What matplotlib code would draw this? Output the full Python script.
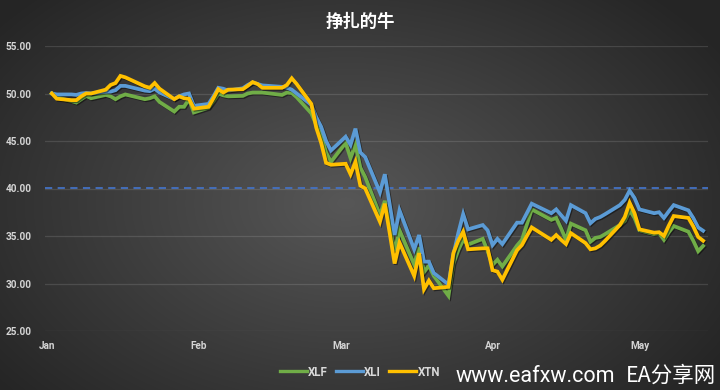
import numpy as np
import pandas as pd
import matplotlib
matplotlib.use("Agg")
import matplotlib.pyplot as plt
import matplotlib.patheffects as pe

# ---------------- data ----------------
dates = [
    "2020-01-02","2020-01-03","2020-01-06","2020-01-07","2020-01-08","2020-01-09","2020-01-10",
    "2020-01-13","2020-01-14","2020-01-15","2020-01-16","2020-01-17","2020-01-21","2020-01-22",
    "2020-01-23","2020-01-24","2020-01-27","2020-01-28","2020-01-29","2020-01-30","2020-01-31",
    "2020-02-03","2020-02-04","2020-02-05","2020-02-06","2020-02-07","2020-02-10","2020-02-11",
    "2020-02-12","2020-02-13","2020-02-14","2020-02-18","2020-02-19","2020-02-20","2020-02-21",
    "2020-02-24","2020-02-25","2020-02-26","2020-02-27","2020-02-28",
    "2020-03-02","2020-03-03","2020-03-04","2020-03-05","2020-03-06","2020-03-09","2020-03-10",
    "2020-03-11","2020-03-12","2020-03-13","2020-03-16","2020-03-17","2020-03-18","2020-03-19",
    "2020-03-20","2020-03-23","2020-03-24","2020-03-25","2020-03-26","2020-03-27","2020-03-30",
    "2020-03-31",
    "2020-04-01","2020-04-02","2020-04-03","2020-04-06","2020-04-07","2020-04-08","2020-04-09",
    "2020-04-13","2020-04-14","2020-04-15","2020-04-16","2020-04-17","2020-04-20","2020-04-21",
    "2020-04-22","2020-04-23","2020-04-24","2020-04-27","2020-04-28","2020-04-29","2020-04-30",
    "2020-05-01","2020-05-04","2020-05-05","2020-05-06","2020-05-07","2020-05-08","2020-05-11",
    "2020-05-12","2020-05-13","2020-05-14",
]

xlf = [
    50.0,49.6,49.2,49.05,49.4,49.75,49.5,49.85,49.7,49.4,49.7,49.9,49.4,49.5,49.7,49.1,48.1,48.6,48.6,49.4,48.0,
    48.5,49.2,50.0,49.8,49.7,49.75,50.0,50.1,50.1,50.1,49.85,50.1,50.05,49.6,47.9,46.7,45.6,43.8,42.8,
    44.8,43.2,44.6,42.2,41.2,37.2,38.7,36.0,33.4,35.6,32.0,33.8,31.2,31.9,30.8,28.7,32.1,33.5,34.6,34.1,34.7,33.4,
    31.95,32.5,31.8,34.0,34.6,36.2,37.8,36.7,36.9,35.8,34.6,36.3,35.6,34.4,34.8,34.9,35.2,36.15,36.6,37.7,36.9,
    35.6,35.2,35.3,34.6,35.4,36.05,35.45,34.5,33.4,33.95,
]
xli = [
    50.0,49.9,49.9,49.85,50.0,50.05,50.0,50.2,50.2,50.35,50.8,50.8,50.3,50.25,50.5,50.1,49.4,49.7,49.9,50.0,48.7,
    48.9,49.7,50.6,50.5,50.3,50.55,50.9,51.15,51.0,50.85,50.7,50.6,50.4,50.0,48.8,47.5,46.5,45.0,44.0,
    45.45,44.6,46.3,43.8,43.3,39.6,41.5,38.3,35.1,37.7,33.6,35.1,32.3,32.3,31.1,29.9,33.0,35.3,37.3,35.7,36.15,35.6,
    34.05,34.7,34.15,36.4,36.4,37.4,38.4,37.4,37.8,37.2,36.6,38.25,37.4,36.35,36.8,37.0,37.3,38.25,38.8,39.77,39.0,
    37.8,37.4,37.5,36.9,37.6,38.25,37.7,36.9,35.9,35.55,
]
xtn = [
    50.0,49.45,49.3,49.3,49.7,50.0,50.0,50.4,50.9,51.1,51.85,51.7,50.75,50.6,51.1,50.5,49.4,49.7,49.5,49.45,48.4,
    48.6,49.5,50.45,50.1,50.4,50.45,50.8,51.2,51.0,50.6,50.6,50.9,51.6,51.0,48.9,46.4,44.8,42.7,42.5,
    42.6,41.5,42.8,40.3,40.0,36.5,38.4,35.3,32.1,34.3,30.8,33.2,29.4,30.3,29.5,29.65,33.2,34.5,35.45,33.6,33.7,33.7,
    31.4,31.25,30.4,33.5,34.05,35.0,35.9,34.6,35.1,34.6,34.15,35.3,34.25,33.6,33.7,34.0,34.5,36.15,37.0,38.5,37.4,
    35.7,35.35,35.4,35.0,36.1,37.1,36.9,36.0,34.9,34.5,
]
series_names = ["XLF", "XLI", "XTN"]
reference_level = 40.1
title = "挣扎的牛"
month_ticks = ["2020-01-01", "2020-02-01", "2020-03-01", "2020-04-01", "2020-05-01"]
month_labels = ["Jan", "Feb", "Mar", "Apr", "May"]
y_ticks = [25, 30, 35, 40, 45, 50, 55]

# ---------------- figure ----------------
W, H = 720, 390
fig = plt.figure(figsize=(W / 100, H / 100), dpi=100)

# radial gradient background
bg = fig.add_axes([0, 0, 1, 1], zorder=-10)
yy, xx = np.mgrid[0:H, 0:W]
cx, cy = W * 0.48, H * 0.52
r = np.sqrt(((xx - cx) / (W * 0.62)) ** 2 + ((yy - cy) / (H * 0.75)) ** 2)
r = np.clip(r, 0, 1)
c_in = np.array([0x57, 0x57, 0x57]) / 255
c_out = np.array([0x25, 0x25, 0x25]) / 255
img = c_in[None, None, :] * (1 - r[..., None]) + c_out[None, None, :] * r[..., None]
bg.imshow(img, aspect="auto", extent=[0, 1, 0, 1], interpolation="bilinear")
bg.axis("off")

ax = fig.add_axes([45 / W, 1 - 331 / H, (708 - 45) / W, (331 - 46) / H])
ax.set_facecolor("none")

x = pd.to_datetime(dates)
colors = ["#70AD47", "#5B9BD5", "#FFC000"]
shadow = [pe.SimpleLineShadow(offset=(0.8, -0.8), shadow_color="black", alpha=0.45), pe.Normal()]
for vals, name, col in zip([xlf, xli, xtn], series_names, colors):
    ax.plot(x, vals, color=col, lw=2.7, label=name, solid_joinstyle="miter",
            path_effects=shadow, zorder=3)

ax.axhline(reference_level, color="#4472C4", lw=1.3, ls=(0, (4, 3)), zorder=2)

ax.set_ylim(25, 55)
ax.set_xlim(pd.Timestamp("2020-01-01") - pd.Timedelta(days=0.4), pd.Timestamp("2020-05-15"))
ax.set_yticks(y_ticks)
ax.set_yticklabels([f"{v:.2f}" for v in y_ticks])
ax.set_xticks(pd.to_datetime(month_ticks))
ax.set_xticklabels(month_labels)
ax.grid(axis="y", color="white", alpha=0.12, lw=0.9, zorder=1)
ax.grid(axis="x", visible=False)
for s in ax.spines.values():
    s.set_visible(False)
ax.tick_params(axis="both", length=0, colors="#d4d4d4", labelsize=7.2)
ax.tick_params(axis="y", pad=9.5)
ax.tick_params(axis="x", pad=7)
for lab in ax.get_xticklabels() + ax.get_yticklabels():
    lab.set_fontfamily("Roboto")
    lab.set_fontweight("bold")

fig.text(0.5, 1 - 22 / H, title, ha="center", va="center", color="white",
         fontsize=12.5, fontweight="bold", family=["Noto Sans CJK SC", "DejaVu Sans"])

leg = fig.legend(loc="center", bbox_to_anchor=(360 / W, 1 - 372 / H), ncol=3, frameon=False,
                 handlelength=2.3, handletextpad=0.15, columnspacing=0.7,
                 prop={"family": "Roboto", "weight": "bold", "size": 8.3})
for t in leg.get_texts():
    t.set_color("#d9d9d9")
for h in leg.legend_handles:
    h.set_path_effects([])
    h.set_linewidth(2.4)

fig.text(535 / W, 1 - 376 / H, "www.eafxw.com", ha="center", va="center", color="white",
         fontsize=15.5, family=["Roboto", "DejaVu Sans"])
fig.text(671 / W, 1 - 376 / H, "EA分享网", ha="center", va="center", color="white",
         fontsize=15.5, family=["Noto Sans CJK SC", "DejaVu Sans"])

fig.savefig("out.png", dpi=100)
